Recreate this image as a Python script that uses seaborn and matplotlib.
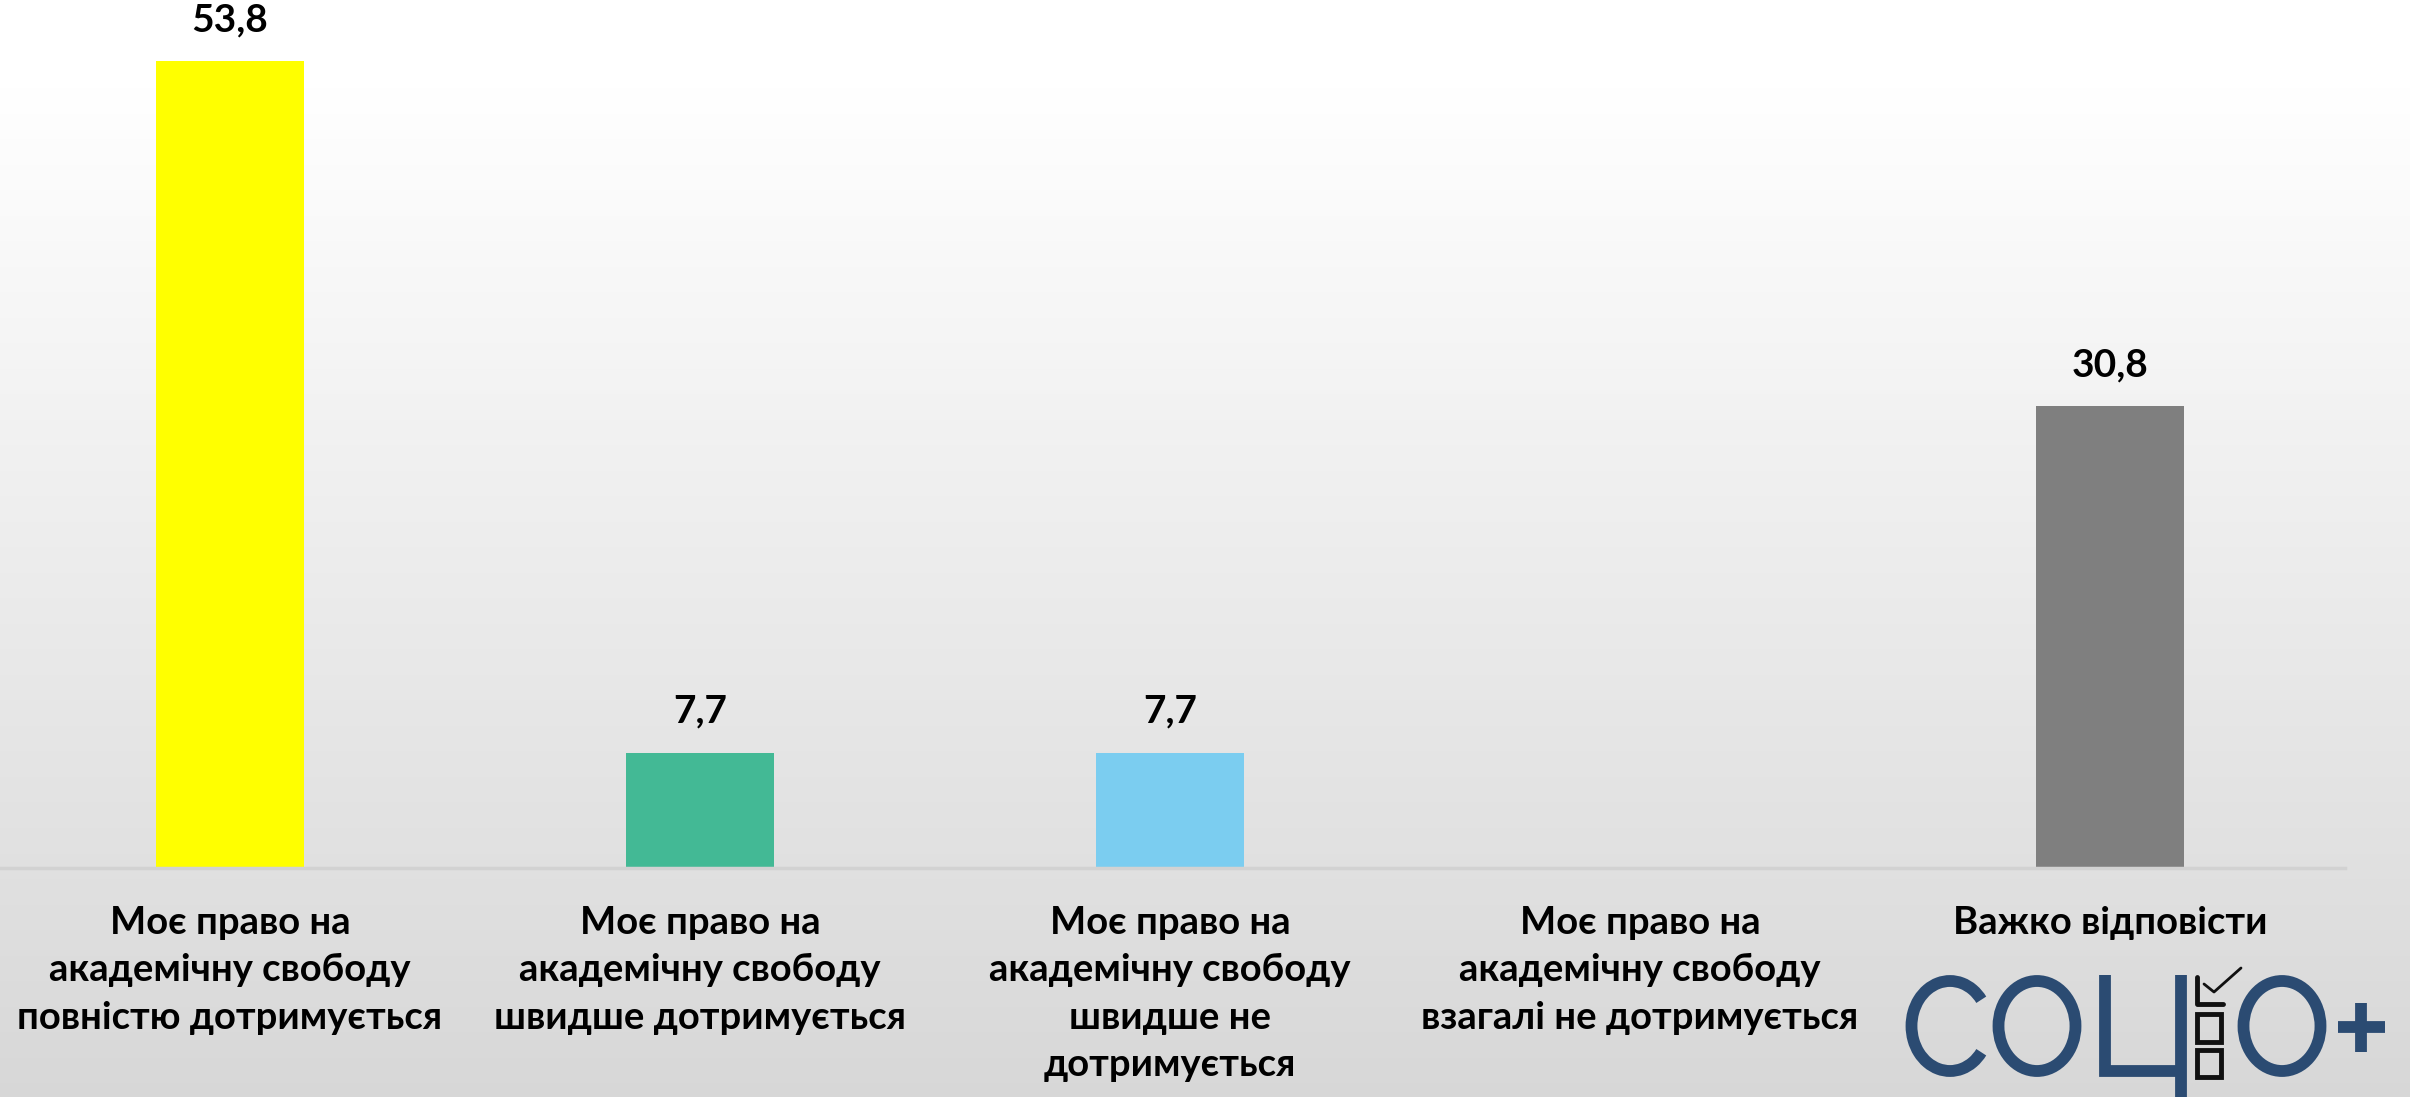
import numpy as np
import matplotlib
matplotlib.use("Agg")
import matplotlib.pyplot as plt
import seaborn as sns
from matplotlib.patches import Rectangle, Ellipse, Arc

# Data
categories = [
    "Моє право на\nакадемічну свободу\nповністю дотримується",
    "Моє право на\nакадемічну свободу\nшвидше дотримується",
    "Моє право на\nакадемічну свободу\nшвидше не\nдотримується",
    "Моє право на\nакадемічну свободу\nвзагалі не дотримується",
    "Важко відповісти",
]
values = [53.8, 7.7, 7.7, 0.0, 30.8]
colors = ["#FFFF00", "#43B995", "#7BCDF0", "#A0A0A0", "#7F7F7F"]

sns.set_theme(style="white")
plt.rcParams["font.family"] = ["Lato", "DejaVu Sans"]

W, H = 2410, 1097
fig = plt.figure(figsize=(W / 100, H / 100), dpi=100)

# background gradient (pixel coordinates)
bg = fig.add_axes([0, 0, 1, 1], zorder=0)
bg.set_xlim(0, W)
bg.set_ylim(H, 0)
bg.axis("off")
rows = np.linspace(0, 1, H)
shade = np.clip((rows - 0.08) / 0.92, 0, 1)
grey = 1.0 - shade * (1.0 - 0.845)
img = np.repeat(grey[:, None], 2, axis=1)
bg.imshow(np.dstack([img, img, img]), extent=[0, W, H, 0], aspect="auto")

# main bars
ax = fig.add_axes([-5 / W, 229 / H, 2350 / W, 868 / H], zorder=1)
ax.patch.set_alpha(0)
sns.barplot(x=list(range(len(values))), y=values, hue=list(range(len(values))),
            palette=colors, legend=False, width=0.313, saturation=1,
            linewidth=0, ax=ax)
ax.set_xlim(-0.5, 4.5)
ax.set_ylim(0, 868 / 15.0)
for s in ["top", "right", "left"]:
    ax.spines[s].set_visible(False)
ax.spines["bottom"].set_color("#d2d2d2")
ax.spines["bottom"].set_linewidth(2.5)
ax.set_yticks([])
ax.set_xticks(range(len(categories)))
ax.set_xticklabels(categories, fontsize=27.5, fontweight="bold",
                   linespacing=1.48, color="black")
ax.tick_params(axis="x", length=0, pad=27)
ax.set_xlabel("")
ax.set_ylabel("")

for cont in ax.containers:
    labs = [("%.1f" % v).replace(".", ",") if v > 0 else "" for v in cont.datavalues]
    ax.bar_label(cont, labels=labs, padding=17, fontsize=28, fontweight="bold",
                 color="black")

# logo "СОЦІО+" drawn with simple strokes
logo_col = "#2B4B72"
lw = 8.5
bg.add_patch(Arc((1950, 1026), 77, 90, theta1=40, theta2=320,
                 color=logo_col, lw=lw, zorder=3))
for cx in (2037, 2282):
    bg.add_patch(Ellipse((cx, 1026), 77, 90, fill=False, ec=logo_col, lw=lw, zorder=3))
bg.plot([2105, 2105, 2181], [975, 1071, 1071], color=logo_col, lw=lw,
        solid_joinstyle="miter", solid_capstyle="butt", zorder=3)
bg.plot([2181, 2181], [975, 1097], color=logo_col, lw=lw, solid_capstyle="butt", zorder=3)
bg.plot([2338, 2385], [1027, 1027], color=logo_col, lw=lw, solid_capstyle="butt", zorder=3)
bg.plot([2361, 2361], [1003, 1052], color=logo_col, lw=lw, solid_capstyle="butt", zorder=3)

bg.add_patch(Rectangle((2197, 1014), 24, 28, fill=False, ec="#111111", lw=3.5, zorder=3))
bg.add_patch(Rectangle((2197, 1050), 24, 27, fill=False, ec="#111111", lw=3.5, zorder=3))
bg.plot([2197, 2197, 2223], [977, 1004, 1004], color="#111111", lw=3.5, zorder=3)
bg.plot([2204, 2214, 2241], [984, 992, 968], color="#111111", lw=2, zorder=3)

fig.savefig("out.png", dpi=100)
